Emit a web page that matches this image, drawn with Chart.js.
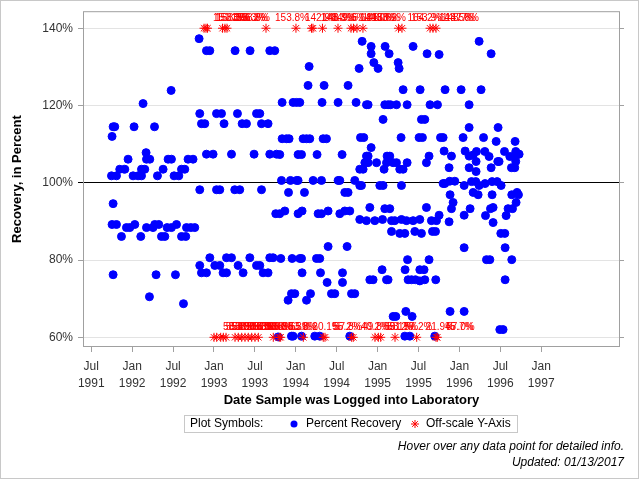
<!DOCTYPE html>
<html>
<head>
<meta charset="utf-8">
<script src="https://cdn.jsdelivr.net/npm/chart.js@4.4.0/dist/chart.umd.min.js"></script>
<style>
  html, body { margin: 0; padding: 0; background: #fff; }
</style>
</head>
<body>
<canvas id="chart" width="640" height="480"></canvas>
<script>
const FONT = "'Liberation Sans', Arial, sans-serif";

// sample log date (decimal year) and percent recovery
const logDates = [
  1991.747, 1991.754, 1991.754, 1991.767, 1991.767, 1991.767, 1991.787, 1991.808, 1991.808, 1991.848,
  1991.869, 1991.910, 1991.930, 1991.950, 1991.971, 1992.011, 1992.023, 1992.032, 1992.072, 1992.105,
  1992.114, 1992.114, 1992.133, 1992.154, 1992.170, 1992.175, 1992.175, 1992.211, 1992.215, 1992.255,
  1992.273, 1992.276, 1992.292, 1992.309, 1992.325, 1992.358, 1992.378, 1992.399, 1992.427, 1992.439,
  1992.476, 1992.480, 1992.480, 1992.512, 1992.529, 1992.542, 1992.570, 1992.603, 1992.603, 1992.627,
  1992.643, 1992.655, 1992.664, 1992.683, 1992.716, 1992.744, 1992.765, 1992.818, 1992.826, 1992.826,
  1992.826, 1992.847, 1992.847, 1992.888, 1992.908, 1992.908, 1992.908, 1992.949, 1992.949, 1992.989,
  1993.010, 1993.031, 1993.031, 1993.071, 1993.071, 1993.092, 1993.111, 1993.123, 1993.153, 1993.153,
  1993.214, 1993.214, 1993.254, 1993.258, 1993.287, 1993.295, 1993.315, 1993.344, 1993.356, 1993.397,
  1993.438, 1993.441, 1993.490, 1993.520, 1993.520, 1993.560, 1993.560, 1993.581, 1993.581, 1993.600,
  1993.661, 1993.661, 1993.682, 1993.682, 1993.682, 1993.722, 1993.743, 1993.755, 1993.764, 1993.784,
  1993.804, 1993.804, 1993.817, 1993.825, 1993.833, 1993.833, 1993.866, 1993.886, 1993.906, 1993.911,
  1993.918, 1993.935, 1993.947, 1993.947, 1993.955, 1993.967, 1993.967, 1993.988, 1994.009, 1994.009,
  1994.028, 1994.028, 1994.028, 1994.049, 1994.049, 1994.070, 1994.070, 1994.070, 1994.077, 1994.077,
  1994.089, 1994.106, 1994.131, 1994.131, 1994.150, 1994.163, 1994.171, 1994.180, 1994.212, 1994.232,
  1994.253, 1994.260, 1994.273, 1994.293, 1994.293, 1994.302, 1994.314, 1994.314, 1994.321, 1994.334,
  1994.346, 1994.375, 1994.383, 1994.395, 1994.395, 1994.436, 1994.477, 1994.517, 1994.517, 1994.538,
  1994.538, 1994.566, 1994.571, 1994.571, 1994.599, 1994.599, 1994.627, 1994.639, 1994.639, 1994.660,
  1994.660, 1994.681, 1994.721, 1994.721, 1994.737, 1994.774, 1994.782, 1994.782, 1994.782, 1994.791,
  1994.803, 1994.811, 1994.823, 1994.831, 1994.844, 1994.864, 1994.864, 1994.864, 1994.884, 1994.884,
  1994.884, 1994.905, 1994.905, 1994.921, 1994.921, 1994.921, 1994.945, 1994.954, 1994.966, 1994.987,
  1995.006, 1995.027, 1995.055, 1995.060, 1995.067, 1995.067, 1995.079, 1995.088, 1995.088, 1995.092,
  1995.109, 1995.109, 1995.116, 1995.128, 1995.128, 1995.141, 1995.149, 1995.149, 1995.158, 1995.170,
  1995.170, 1995.190, 1995.190, 1995.210, 1995.223, 1995.231, 1995.231, 1995.251, 1995.263, 1995.271,
  1995.271, 1995.287, 1995.292, 1995.292, 1995.312, 1995.312, 1995.333, 1995.333, 1995.336, 1995.345,
  1995.353, 1995.361, 1995.361, 1995.366, 1995.373, 1995.394, 1995.415, 1995.422, 1995.434, 1995.434,
  1995.455, 1995.463, 1995.507, 1995.516, 1995.516, 1995.516, 1995.520, 1995.536, 1995.536, 1995.548,
  1995.568, 1995.577, 1995.577, 1995.597, 1995.597, 1995.605, 1995.629, 1995.629, 1995.641, 1995.658,
  1995.671, 1995.699, 1995.708, 1995.711, 1995.720, 1995.732, 1995.752, 1995.752, 1995.769, 1995.801,
  1995.801, 1995.813, 1995.822, 1995.825, 1995.874, 1995.874, 1995.882, 1995.886, 1995.886, 1995.903,
  1995.903, 1995.923, 1995.944, 1996.021, 1996.045, 1996.058, 1996.058, 1996.058, 1996.058, 1996.070,
  1996.119, 1996.119, 1996.119, 1996.119, 1996.131, 1996.148, 1996.168, 1996.168, 1996.200, 1996.204,
  1996.204, 1996.209, 1996.229, 1996.241, 1996.241, 1996.265, 1996.295, 1996.311, 1996.314, 1996.319,
  1996.331, 1996.363, 1996.372, 1996.380, 1996.388, 1996.388, 1996.400, 1996.400, 1996.412, 1996.412,
  1996.449, 1996.461, 1996.469, 1996.473, 1996.485, 1996.494, 1996.506, 1996.510, 1996.534, 1996.551,
  1996.555, 1996.559, 1996.559, 1996.571, 1996.595, 1996.616, 1996.636, 1996.640, 1996.640, 1996.649,
  1996.656, 1996.677, 1996.681, 1996.689, 1996.689, 1996.693, 1996.705, 1996.722, 1996.722, 1996.730
];
const recovery = [
  101.8, 112.0, 89.2, 114.5, 94.6, 76.2, 114.5, 101.8, 89.2, 103.5,
  86.1, 103.5, 88.4, 106.1, 88.4, 101.8, 114.5, 89.2, 101.8, 86.1,
  103.5, 101.8, 120.5, 103.5, 107.8, 106.1, 88.4, 70.5, 106.1, 88.4,
  114.5, 89.2, 76.2, 101.8, 89.2, 86.1, 103.5, 86.1, 88.4, 106.1,
  123.9, 106.1, 88.4, 101.8, 76.2, 89.2, 101.8, 103.5, 86.1, 68.7,
  103.5, 86.1, 88.4, 106.1, 88.4, 106.1, 88.4, 137.3, 117.9, 98.2,
  78.6, 115.3, 76.7, 115.3, 134.2, 107.4, 76.7, 134.2, 80.6, 107.4,
  78.6, 117.9, 98.2, 98.2, 78.6, 117.9, 76.7, 115.3, 80.6, 76.7,
  107.4, 80.6, 98.2, 134.2, 117.9, 78.6, 98.2, 115.3, 76.7, 115.3,
  80.6, 134.2, 107.4, 117.9, 78.6, 117.9, 78.6, 115.3, 98.2, 76.7,
  115.3, 76.7, 134.2, 107.4, 80.6, 80.6, 134.2, 92.0, 107.4, 60.1,
  107.3, 92.0, 80.4, 100.6, 120.8, 111.4, 92.7, 111.4, 69.6, 97.5,
  111.4, 100.6, 71.3, 60.3, 80.4, 120.8, 60.3, 71.3, 120.8, 100.6,
  107.3, 100.6, 92.0, 120.8, 80.4, 107.3, 80.4, 60.3, 92.7, 76.7,
  111.4, 97.5, 111.4, 69.6, 125.2, 130.1, 111.4, 71.3, 100.6, 60.3,
  80.4, 107.3, 92.0, 80.4, 60.3, 76.7, 100.6, 92.0, 120.8, 111.4,
  125.2, 111.4, 74.2, 92.7, 83.5, 71.3, 71.3, 120.8, 100.6, 100.6,
  92.0, 107.3, 76.7, 74.2, 97.5, 92.7, 83.5, 125.2, 97.5, 92.7,
  60.3, 71.3, 100.6, 71.3, 120.8, 129.6, 103.5, 99.3, 90.5, 111.7,
  99.3, 136.6, 103.5, 111.7, 105.2, 120.2, 106.9, 90.2, 120.2, 106.9,
  105.2, 93.6, 74.9, 135.3, 133.4, 109.1, 74.9, 131.1, 90.2, 105.2,
  129.6, 99.3, 77.5, 90.5, 116.4, 99.3, 103.5, 120.2, 93.3, 135.3,
  105.2, 74.9, 106.9, 120.2, 74.9, 133.4, 106.9, 93.3, 120.2, 90.2,
  87.4, 105.2, 65.4, 90.2, 65.4, 120.2, 105.2, 131.1, 129.6, 103.5,
  86.9, 111.7, 99.3, 90.5, 124.1, 103.5, 86.9, 60.3, 77.5, 66.7,
  90.2, 120.2, 105.2, 80.1, 74.9, 60.3, 74.9, 65.4, 135.3, 90.2,
  87.4, 74.9, 111.7, 90.5, 77.5, 74.6, 124.1, 116.4, 86.9, 111.7,
  77.5, 116.4, 74.9, 105.2, 93.6, 133.4, 106.9, 80.1, 120.2, 90.2,
  87.4, 60.3, 87.4, 74.9, 90.2, 120.2, 133.2, 91.6, 111.7, 111.7,
  99.8, 108.2, 99.8, 124.1, 103.9, 89.9, 100.4, 96.9, 66.7, 106.9,
  93.3, 94.9, 100.4, 124.1, 111.7, 99.3, 91.6, 83.2, 66.7, 108.2,
  120.2, 114.3, 106.9, 103.9, 93.3, 100.3, 107.2, 97.5, 100.3, 105.5,
  102.9, 108.1, 96.9, 136.6, 99.3, 124.1, 111.7, 108.1, 99.8, 91.5,
  80.1, 106.8, 80.1, 93.3, 133.4, 103.9, 100.3, 96.9, 93.6, 89.7,
  110.7, 100.3, 105.5, 114.3, 105.5, 62.0, 86.9, 99.3, 62.0, 108.1,
  86.9, 83.2, 74.9, 91.5, 93.3, 106.8, 103.9, 96.9, 80.1, 93.3,
  106.8, 103.9, 110.7, 108.1, 105.5, 94.9, 97.5, 107.4, 96.9, 107.4
];

// samples whose recovery falls outside the 60%-140% window
const offscaleDates = [
  1992.878, 1992.902, 1992.921, 1993.104, 1993.134, 1993.159, 1993.636, 1994.002, 1994.192, 1994.210,
  1994.326, 1994.516, 1994.675, 1994.705, 1994.748, 1994.821, 1995.255, 1995.298, 1995.641, 1995.677,
  1995.714,
  1993.000, 1993.033, 1993.082, 1993.114, 1993.147, 1993.257, 1993.297, 1993.339, 1993.379, 1993.419,
  1993.461, 1993.501, 1993.542, 1993.725, 1993.798, 1993.815, 1994.092, 1994.336, 1994.357, 1994.683,
  1994.703, 1994.968, 1995.009, 1995.038, 1995.213, 1995.478, 1995.714, 1995.730
];
const offscaleValues = [
  151.3, 153.3, 158.3, 153.3, 156.3, 158.8, 153.8, 142.9, 148.3, 143.9,
  149.6, 151.8, 141.0, 146.3, 143.6, 150.2, 164.2, 153.9, 143.5, 148.7,
  147.8,
  58.8, 55.8, 53.8, 58.3, 58.8, 58.8, 55.3, 58.8, 52.8, 57.8,
  58.8, 56.8, 55.8, 58.3, 53.8, 55.8, 20.1, 55.2, 57.8, 40.2,
  49.8, 59.1, 58.2, 51.7, 57.2, 21.9, 45.7, 57.0
];

const tickDates = [1991.5, 1992, 1992.5, 1993, 1993.5, 1994, 1994.5, 1995, 1995.5, 1996, 1996.5, 1997];
const tickLabels = [
  ["Jul", "1991"], ["Jan", "1992"], ["Jul", "1992"], ["Jan", "1993"], ["Jul", "1993"], ["Jan", "1994"],
  ["Jul", "1994"], ["Jan", "1995"], ["Jul", "1995"], ["Jan", "1996"], ["Jul", "1996"], ["Jan", "1997"]
];
const yTicks = [60, 80, 100, 120, 140];

const Y_LOW = 60, Y_HIGH = 140;
const X_MIN = 1991.411, X_MAX = 1997.951;
const Y_MIN = 57.75, Y_MAX = 144.15;

const recoveryPoints = logDates.map((d, i) => ({ x: d, y: recovery[i] }));
const offscalePoints = offscaleDates.map((d, i) => ({
  x: d,
  y: Math.min(Y_HIGH, Math.max(Y_LOW, offscaleValues[i]))
}));

function drawStar(ctx, x, y, r) {
  ctx.beginPath();
  ctx.moveTo(x, y - r); ctx.lineTo(x, y + r);
  ctx.moveTo(x - r, y); ctx.lineTo(x + r, y);
  const d = r * Math.SQRT1_2;
  ctx.moveTo(x - d, y - d); ctx.lineTo(x + d, y + d);
  ctx.moveTo(x - d, y + d); ctx.lineTo(x + d, y - d);
  ctx.stroke();
}

const decor = {
  id: 'decor',
  beforeDatasetsDraw(chart) {
    const { ctx, chartArea: a } = chart;
    ctx.save();
    ctx.strokeStyle = '#a0a0a0';
    ctx.lineWidth = 1;
    ctx.strokeRect(a.left - 0.5, a.top - 0.5, a.right - a.left + 1, a.bottom - a.top + 1);
    ctx.restore();
  },
  afterDatasetsDraw(chart) {
    const { ctx } = chart;
    const meta = chart.getDatasetMeta(1);
    ctx.save();
    ctx.fillStyle = '#ff0000';
    ctx.font = '10px ' + FONT;
    ctx.textAlign = 'left';
    ctx.textBaseline = 'middle';
    meta.data.forEach((pt, i) => {
      ctx.fillText(offscaleValues[i].toFixed(1) + '%', pt.x + 9, pt.y - 10);
    });
    ctx.restore();
  },
  afterDraw(chart) {
    const { ctx } = chart;
    ctx.save();
    // outer frame
    ctx.strokeStyle = '#c8c8c8';
    ctx.lineWidth = 1;
    ctx.strokeRect(0.5, 0.5, 638, 478);
    // legend box
    ctx.strokeRect(184.5, 415.5, 333, 17);
    ctx.fillStyle = '#000';
    ctx.font = '12px ' + FONT;
    ctx.textBaseline = 'middle';
    ctx.textAlign = 'left';
    ctx.fillText('Plot Symbols:', 190, 424);
    ctx.fillStyle = '#0000ff';
    ctx.beginPath();
    ctx.arc(294, 424, 3.5, 0, Math.PI * 2);
    ctx.fill();
    ctx.fillStyle = '#000';
    ctx.fillText('Percent Recovery', 306, 424);
    ctx.strokeStyle = '#ff0000';
    drawStar(ctx, 415, 424, 4);
    ctx.fillText('Off-scale Y-Axis', 426, 424);
    // footnotes
    ctx.font = 'italic 12px ' + FONT;
    ctx.textAlign = 'right';
    ctx.fillText('Hover over any data point for detailed info.', 624, 447);
    ctx.fillText('Updated: 01/13/2017', 624, 463);
    ctx.restore();
  }
};

new Chart(document.getElementById('chart'), {
  type: 'scatter',
  data: {
    datasets: [
      {
        label: 'Percent Recovery',
        data: recoveryPoints,
        pointStyle: 'circle',
        pointRadius: 4,
        pointHoverRadius: 5,
        borderWidth: 1,
        backgroundColor: '#0000ff',
        borderColor: '#0000ff',
        order: 2
      },
      {
        label: 'Off-scale Y-Axis',
        data: offscalePoints,
        pointStyle: 'star',
        pointRadius: 4.5,
        pointHoverRadius: 5,
        borderWidth: 1,
        backgroundColor: '#ff0000',
        borderColor: '#ff0000',
        order: 1
      }
    ]
  },
  options: {
    responsive: false,
    animation: false,
    layout: { padding: { top: 12, bottom: 72, left: 0, right: 0 } },
    plugins: {
      legend: { display: false },
      tooltip: {
        callbacks: {
          label: (c) => c.datasetIndex === 1
            ? offscaleValues[c.dataIndex].toFixed(1) + '%'
            : c.parsed.y.toFixed(1) + '%'
        }
      }
    },
    scales: {
      x: {
        type: 'linear',
        position: 'bottom',
        min: X_MIN,
        max: X_MAX,
        bounds: 'data',
        afterBuildTicks: (axis) => { axis.ticks = tickDates.map(v => ({ value: v })); },
        afterFit: (axis) => { axis.height = 62; },
        grid: { drawOnChartArea: false, drawTicks: true, tickLength: 6, tickColor: '#a0a0a0' },
        border: { display: false },
        ticks: {
          autoSkip: false,
          maxRotation: 0,
          padding: 6,
          color: '#333',
          font: { family: FONT, size: 12, lineHeight: '17px' },
          callback: (v, i) => tickLabels[i]
        },
        title: {
          display: true,
          text: 'Date Sample was Logged into Laboratory',
          color: '#000',
          padding: 0,
          font: { family: FONT, size: 13, weight: 'bold' }
        }
      },
      y: {
        type: 'linear',
        position: 'left',
        min: Y_MIN,
        max: Y_MAX,
        bounds: 'data',
        afterBuildTicks: (axis) => { axis.ticks = yTicks.map(v => ({ value: v })); },
        afterFit: (axis) => { axis.width = 84; },
        grid: {
          color: (c) => (c.tick && c.tick.value === 100 ? '#000' : '#e3e3e3'),
          tickColor: (c) => (c.tick && c.tick.value === 100 ? '#000' : '#a0a0a0'),
          tickLength: 6,
          lineWidth: 1
        },
        border: { display: false },
        ticks: {
          padding: 5,
          color: '#333',
          font: { family: FONT, size: 12 },
          callback: (v) => v + '%'
        },
        title: {
          display: true,
          text: 'Recovery, in Percent',
          color: '#000',
          padding: { top: 10, bottom: 0 },
          font: { family: FONT, size: 13, weight: 'bold' }
        }
      },
      y2: {
        type: 'linear',
        position: 'right',
        min: Y_MIN,
        max: Y_MAX,
        bounds: 'data',
        afterBuildTicks: (axis) => { axis.ticks = yTicks.map(v => ({ value: v })); },
        afterFit: (axis) => { axis.width = 21; },
        grid: { drawOnChartArea: false, tickLength: 5, tickColor: '#a0a0a0' },
        border: { display: false },
        ticks: { display: false }
      }
    }
  },
  plugins: [decor]
});
</script>
</body>
</html>
